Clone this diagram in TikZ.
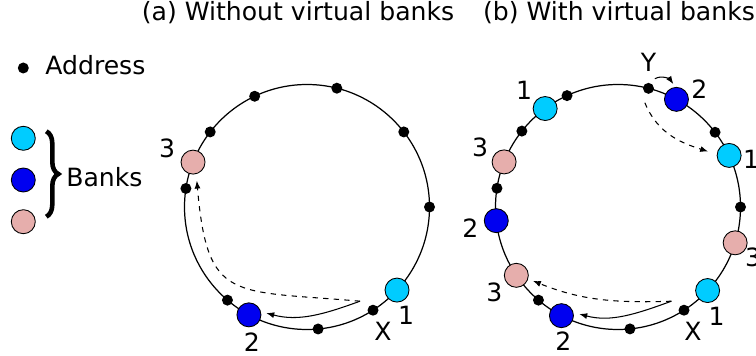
\documentclass[tikz,border=0pt]{standalone}
\usepackage{fontspec}
\setmainfont{DejaVu Sans}
\usetikzlibrary{positioning,calc,arrows.meta,decorations.pathreplacing}

\definecolor{bankcyan}{RGB}{0,204,255}
\definecolor{bankblue}{RGB}{0,0,240}
\definecolor{bankpink}{RGB}{230,174,172}

\begin{document}
\begin{tikzpicture}[
    x=0.02cm, y=0.02cm,
    font=\fontsize{14.3}{17}\selectfont,
    ring/.style={line width=0.7pt},
    addr/.style={circle, fill=black, inner sep=0pt, minimum size=2.2mm},
    bank/.style={circle, draw=black, line width=0.5pt, fill=#1, inner sep=0pt, minimum size=4.8mm},
    bank/.default={bankcyan},
    num/.style={inner sep=0pt},
    move/.style={-{Latex[length=1.6mm, width=1.2mm]}, line width=0.6pt},
    brc/.style={decorate, decoration={brace, amplitude=2.4mm}, line width=2.6pt},
    ]
    \useasboundingbox (0,0) rectangle (756,355);
    \clip (0,0) rectangle (756,355);

    %% titles
    \node[anchor=base] (t_a) at (298,334.5) {(a) Without virtual banks};
    \node[anchor=base] (t_b) at (619,334.5) {(b) With virtual banks};

    %% legend
    \node[addr] (l_addr) at (23.3,287) {};
    \node[anchor=base west, inner sep=0pt] (l_addr_t) at (45,280) {Address};
    \node[bank=bankcyan] (l_b1) at (23.3,216.7) {};
    \node[bank=bankblue] (l_b2) at (23.3,175) {};
    \node[bank=bankpink] (l_b3) at (23.3,133.3) {};
    \draw[brc] ($(l_b1)+(23,7)$) -- ($(l_b3)+(23,5)$);
    \node[anchor=base west, inner sep=0pt] (l_banks) at (66,168.3) {Banks};

    %% rings
    \coordinate (c_a) at (307,148);
    \coordinate (c_b) at (618,148);
    \draw[ring] (c_a) circle[radius=122.5];
    \draw[ring] (c_b) circle[radius=122.5];

    %%% (a) without virtual banks %%%
    %% addresses
    \node[addr] (a_d1) at ($(c_a)+(171.3:122.5)$) {};
    \node[addr] (a_d2) at ($(c_a)+(142.2:122.5)$) {};
    \node[addr] (a_d3) at ($(c_a)+(115.3:122.5)$) {};
    \node[addr] (a_d4) at ($(c_a)+(75.9:122.5)$) {};
    \node[addr] (a_d5) at ($(c_a)+(37.8:122.5)$) {};
    \node[addr] (a_d6) at ($(c_a)+(0:122.5)$) {};
    \node[addr] (a_x)  at ($(c_a)+(-57.4:122.5)$) {};
    \node[addr] (a_d7) at ($(c_a)+(-84.8:122.5)$) {};
    \node[addr] (a_d8) at ($(c_a)+(229.5:122.5)$) {};
    %% banks
    \node[bank=bankcyan] (a_b1) at ($(c_a)+(-42.7:122.5)$) {};
    \node[bank=bankblue] (a_b2) at ($(c_a)+(241.7:122.5)$) {};
    \node[bank=bankpink] (a_b3) at ($(c_a)+(158.5:122.5)$) {};
    %% labels
    \node[num] (a_n1) at ($(a_b1)+(9,-25)$) {1};
    \node[num] (a_n2) at ($(a_b2)+(3,-27)$) {2};
    \node[num] (a_n3) at ($(a_b3)+(-26,14)$) {3};
    \node[num] (a_nx) at ($(a_x)+(10,-21)$) {X};

    %% arrows
    \coordinate (a_t) at ($(a_x)+(-13,9)$);
    \draw[move, shorten >=1.1mm] (a_t) to[out=200, in=-15] (a_b2.15);
    \draw[move, dashed, shorten >=1.3mm] (a_t) to[out=175, in=-85, looseness=1.6] (a_b3.-75);

    %%% (b) with virtual banks %%%
    %% addresses
    \node[addr] (b_d1) at ($(c_b)+(114.6:122.5)$) {};
    \node[addr] (b_y)  at ($(c_b)+(75.6:122.5)$) {};
    \node[addr] (b_d2) at ($(c_b)+(37.6:122.5)$) {};
    \node[addr] (b_d3) at ($(c_b)+(0:122.5)$) {};
    \node[addr] (b_x)  at ($(c_b)+(-57.4:122.5)$) {};
    \node[addr] (b_d4) at ($(c_b)+(-84.4:122.5)$) {};
    \node[addr] (b_d5) at ($(c_b)+(229.5:122.5)$) {};
    \node[addr] (b_d6) at ($(c_b)+(171.2:122.5)$) {};
    \node[addr] (b_d7) at ($(c_b)+(141.7:122.5)$) {};
    %% banks
    \node[bank=bankcyan] (b_b1) at ($(c_b)+(126.5:122.5)$) {};
    \node[bank=bankblue] (b_b2) at ($(c_b)+(61.5:122.5)$) {};
    \node[bank=bankcyan] (b_b3) at ($(c_b)+(24.9:122.5)$) {};
    \node[bank=bankpink] (b_b4) at ($(c_b)+(-17:122.5)$) {};
    \node[bank=bankcyan] (b_b5) at ($(c_b)+(-43:122.5)$) {};
    \node[bank=bankblue] (b_b6) at ($(c_b)+(242.5:122.5)$) {};
    \node[bank=bankpink] (b_b7) at ($(c_b)+(213.9:122.5)$) {};
    \node[bank=bankblue] (b_b8) at ($(c_b)+(186.4:122.5)$) {};
    \node[bank=bankpink] (b_b9) at ($(c_b)+(158.4:122.5)$) {};
    %% labels
    \node[num] (b_n1) at ($(b_b1)+(-21,18)$) {1};
    \node[num] (b_n2) at ($(b_b2)+(23,10.5)$) {2};
    \node[num] (b_n3) at ($(b_b3)+(22,-3.5)$) {1};
    \node[num] (b_n4) at ($(b_b4)+(18,-15)$) {3};
    \node[num] (b_n5) at ($(b_b5)+(9,-26)$) {1};
    \node[num] (b_n6) at ($(b_b6)+(2,-26)$) {2};
    \node[num] (b_n7) at ($(b_b7)+(-22,-17)$) {3};
    \node[num] (b_n8) at ($(b_b8)+(-26,-8)$) {2};
    \node[num] (b_n9) at ($(b_b9)+(-24,15)$) {3};
    \node[num] (b_nx) at ($(b_x)+(9,-21)$) {X};
    \node[num] (b_ny) at ($(b_y)+(0,26)$) {Y};

    %% arrows
    \coordinate (b_t)  at ($(b_x)+(-12.6,9)$);
    \coordinate (b_ty) at ($(b_y)+(6.4,9.6)$);
    \coordinate (b_ts) at ($(b_y)+(-3.6,-14.4)$);
    \draw[move, shorten >=1.2mm] (b_t) to[out=200, in=-15] (b_b6.15);
    \draw[move, dashed, shorten >=1mm] (b_t) to[out=182, in=-22] (b_b7.-17);
    \draw[move, shorten >=0.7mm] (b_ty) to[out=30, in=125] (b_b2.95);
    \draw[move, dashed, shorten >=1.8mm] (b_ts) to[out=-68, in=162] (b_b3.175);

\end{tikzpicture}
\end{document}
